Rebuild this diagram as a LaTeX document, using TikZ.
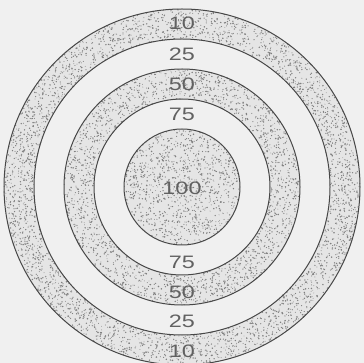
\documentclass[tikz,border=0pt]{standalone}
\usepackage{fontspec}
\setmainfont{Liberation Sans}
\begin{document}
\begin{tikzpicture}[x=1pt,y=-1pt,
  ring/.style={draw=black!72, line width=1pt},
  stip/.style={fill=black!10},
  dotc/.style={fill=black!50},
  lab/.style={text=black!62, inner sep=0pt, font=\fontsize{18}{18}\selectfont}]
\fill[black!6] (0,0) rectangle (364,363);
\useasboundingbox (0,0) rectangle (364,363);
\coordinate (c) at (182,187);
% stippled rings
\fill[stip, even odd rule] (c) circle (178) (c) circle (148);
\fill[stip, even odd rule] (c) circle (118) (c) circle (88);
\fill[stip] (c) circle (58);
\pgfmathsetseed{7}
\foreach \ra/\rb/\n in {1.48/1.78/3200, 0.88/1.18/1900, 0/0.58/1050} {
  \foreach \i in {1,...,\n} {
    \pgfmathsetmacro\rr{100*sqrt(\ra*\ra + rnd*(\rb*\rb-\ra*\ra))}
    \pgfmathsetmacro\aa{360*rnd}
    \pgfmathsetmacro\ds{0.4+0.45*rnd}
    \fill[dotc, shift={(c)}] (\aa:\rr) circle (\ds);
  }
}
% ring outlines
\foreach \r in {178,148,118,88,58} \draw[ring] (c) circle (\r);
% labels
\node[lab] (t10) at (182,23) {\scalebox{1.3}[1]{10}};
\node[lab] (t25) at (182,54) {\scalebox{1.3}[1]{25}};
\node[lab] (t50) at (182,84) {\scalebox{1.3}[1]{50}};
\node[lab] (t75) at (182,114) {\scalebox{1.3}[1]{75}};
\node[lab] (t100) at (182,188) {\scalebox{1.3}[1]{100}};
\node[lab] (b75) at (182,262) {\scalebox{1.3}[1]{75}};
\node[lab] (b50) at (182,292) {\scalebox{1.3}[1]{50}};
\node[lab] (b25) at (182,321) {\scalebox{1.3}[1]{25}};
\node[lab] (b10) at (182,351) {\scalebox{1.3}[1]{10}};
\end{tikzpicture}
\end{document}
